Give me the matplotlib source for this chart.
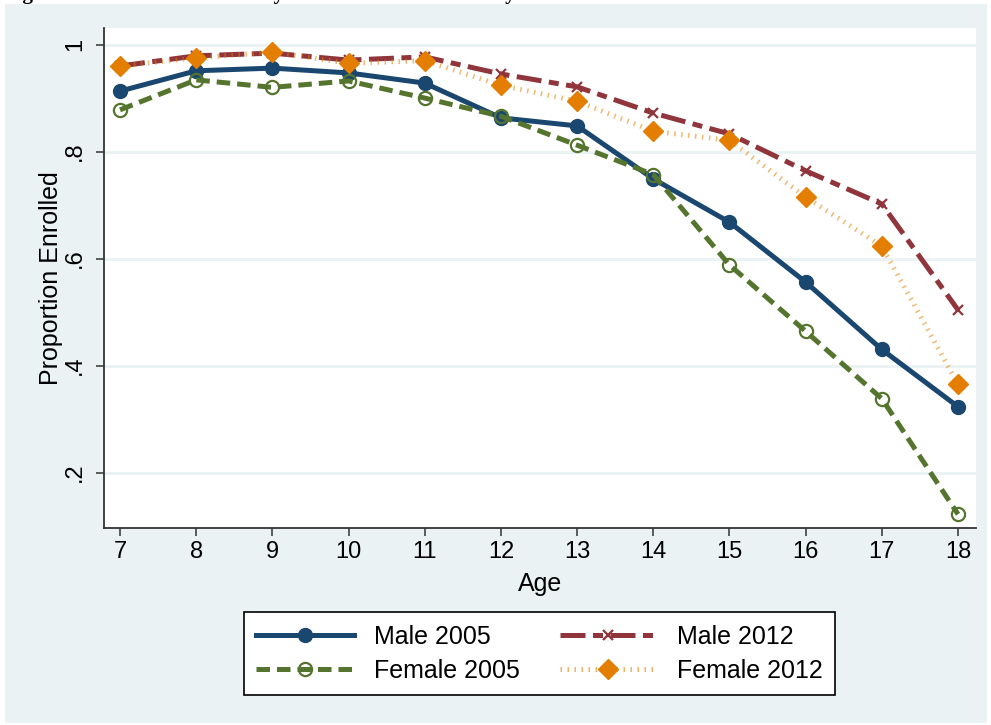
import numpy as np
import matplotlib
matplotlib.use("Agg")
import matplotlib.pyplot as plt
from matplotlib.patches import Rectangle

# enrollment by age
ages = [7, 8, 9, 10, 11, 12, 13, 14, 15, 16, 17, 18]
male_2005 = [0.913, 0.951, 0.956, 0.947, 0.928, 0.863, 0.848, 0.749, 0.668, 0.556, 0.430, 0.323]
female_2005 = [0.878, 0.934, 0.920, 0.932, 0.900, 0.866, 0.812, 0.757, 0.588, 0.464, 0.338, 0.122]
male_2012 = [0.960, 0.979, 0.984, 0.971, 0.977, 0.945, 0.921, 0.872, 0.833, 0.764, 0.702, 0.504]
female_2012 = [0.960, 0.975, 0.986, 0.965, 0.970, 0.924, 0.894, 0.838, 0.821, 0.715, 0.623, 0.365]
yticks = [0.2, 0.4, 0.6, 0.8, 1.0]
ytick_labels = [".2", ".4", ".6", ".8", "1"]

navy = "#1A476F"
maroon = "#90353B"
green = "#55752F"
orange = "#E37E00"
bg = "#EAF2F3"

plt.rcParams["font.family"] = ["Liberation Sans", "DejaVu Sans"]

W, H = 991, 725
fig = plt.figure(figsize=(W / 100, H / 100), dpi=100, facecolor="white")
fig.patches.append(Rectangle((5 / W, 2 / H), 982 / W, 719 / H, transform=fig.transFigure,
                             facecolor=bg, edgecolor="none", zorder=-10))

# title is cut off in the original, only descenders show
fig.text(4 / W, 1 + 1.5 / H, "Figure 3: School Enrollment by Sex and Round of Survey",
         family="Liberation Serif", weight="bold", fontsize=15, va="baseline", ha="left")

ax = fig.add_axes([104 / W, 1 - 528 / H, 872 / W, 500 / H])
ax.set_facecolor("white")

dot_ls = (0, (0.3, 1.1))
ax.plot(ages, male_2005, color=navy, lw=3.6, marker="o", ms=10, label="Male 2005", zorder=3)
ax.plot(ages, female_2005, color=green, lw=3.6, ls=(0, (2.7, 1.4)), marker="o", ms=9.5,
        mfc="none", mec=green, mew=1.6, label="Female 2005", zorder=3)
ax.plot(ages, male_2012, color=maroon, lw=3.6, ls=(0, (5, 1.5, 2, 1.5)), marker="x", ms=7,
        mew=1.6, label="Male 2012", zorder=3)
ax.plot(ages, female_2012, color=orange, lw=3.6, ls=dot_ls, dash_capstyle="butt",
        alpha=0.55, zorder=3)
ax.plot(ages, female_2012, color=orange, ls="none", marker="D", ms=10, zorder=4)
# legend handle for the dotted series with a solid diamond
h_f12, = ax.plot([], [], color="#F0B266", lw=3.6, ls=dot_ls, dash_capstyle="butt",
                 marker="D", ms=10, mfc=orange, mec=orange, label="Female 2012")

ax.set_xlim(6.79, 18.236)
ax.set_ylim(0.0963, 1.031)
ax.set_xticks(ages)
ax.set_yticks(yticks)
ax.set_yticklabels(ytick_labels, rotation=90, va="center")
ax.grid(axis="y", color=bg, lw=2)
ax.set_axisbelow(True)

for s in ["top", "right"]:
    ax.spines[s].set_visible(False)
for s in ["left", "bottom"]:
    ax.spines[s].set_color("#333333")
    ax.spines[s].set_linewidth(1.3)
ax.tick_params(axis="both", direction="out", length=6, width=1.1, color="#333333",
               labelsize=17)
ax.tick_params(axis="y", pad=7)
ax.tick_params(axis="x", pad=3)

ax.set_xlabel("Age", fontsize=18, labelpad=7)
ax.set_ylabel("Proportion Enrolled", fontsize=18, labelpad=1)

handles, labels = ax.get_legend_handles_labels()
order = ["Male 2005", "Female 2005", "Male 2012", "Female 2012"]
hmap = dict(zip(labels, handles))
leg = fig.legend([hmap[k] for k in order], order, loc="center", ncol=2,
                 bbox_to_anchor=((248 + 831) / 2 / W, 1 - (612 + 695) / 2 / H),
                 fontsize=18, frameon=True, fancybox=False, edgecolor="black",
                 framealpha=1, facecolor="white",
                 handlelength=3.9, columnspacing=1.6, handletextpad=0.8,
                 borderpad=0.5, labelspacing=0.4)
leg.get_frame().set_linewidth(1.2)

fig.savefig("out.png", dpi=100, facecolor="white")
